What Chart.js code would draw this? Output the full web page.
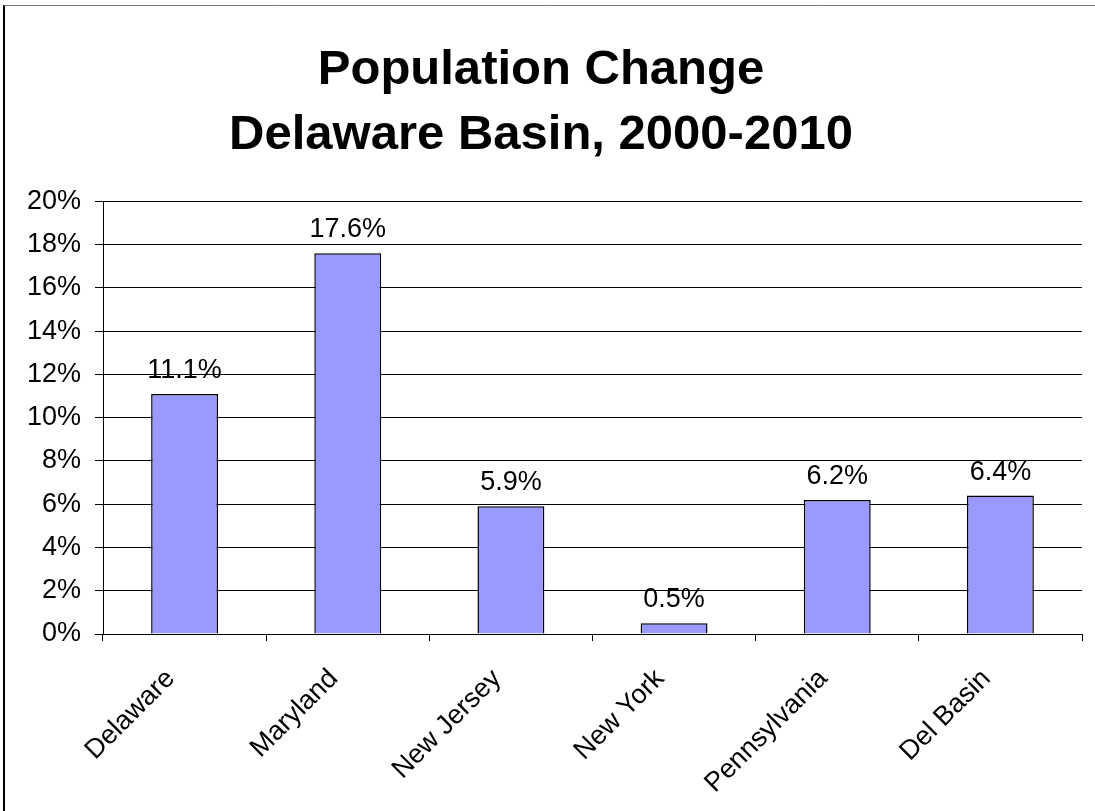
<!DOCTYPE html>
<html>
<head>
<meta charset="utf-8">
<script src="https://cdn.jsdelivr.net/npm/chart.js@4"></script>
<style>
  html, body { margin: 0; padding: 0; background: #fff; }
  #wrap { width: 1095px; height: 811px; position: relative; }
</style>
</head>
<body>
<div id="wrap"><canvas id="myChart" width="1095" height="811"></canvas></div>
<script>
const regions = ["Delaware", "Maryland", "New Jersey", "New York", "Pennsylvania", "Del Basin"];
const popChange = [11.1, 17.6, 5.9, 0.5, 6.2, 6.4];
const titleLines = ["Population Change", "Delaware Basin, 2000-2010"];

const FONT = "'Liberation Sans', Arial, sans-serif";

// frame lines on the left and top edge like the original picture
const framePlugin = {
  id: "frame",
  beforeDraw(chart) {
    const c = chart.ctx;
    c.save();
    c.strokeStyle = "#000";
    c.lineWidth = 2;
    c.beginPath();
    c.moveTo(4, 5);
    c.lineTo(4, chart.height);
    c.stroke();
    c.strokeStyle = "#777";
    c.lineWidth = 1;
    c.beginPath();
    c.moveTo(4, 5.5);
    c.lineTo(chart.width, 5.5);
    c.stroke();
    c.restore();
  },
};

// value labels above the bars
const valueLabels = {
  id: "valueLabels",
  afterDatasetsDraw(chart) {
    const c = chart.ctx;
    const meta = chart.getDatasetMeta(0);
    c.save();
    c.font = "27px " + FONT;
    c.fillStyle = "#000";
    c.textAlign = "center";
    c.textBaseline = "alphabetic";
    meta.data.forEach((bar, i) => {
      c.fillText(popChange[i].toFixed(1) + "%", bar.x, bar.y - 16);
    });
    c.restore();
  },
};

const ctx = document.getElementById("myChart").getContext("2d");
const myChart = new Chart(ctx, {
  type: "bar",
  data: {
    labels: regions,
    datasets: [
      {
        data: popChange,
        backgroundColor: "#9999FF",
        borderColor: "#000",
        borderWidth: 1.5,
        barPercentage: 1,
        categoryPercentage: 0.41,
      },
    ],
  },
  options: {
    responsive: false,
    animation: false,
    layout: { padding: { left: 0, right: 13, top: 0, bottom: 0 } },
    plugins: {
      legend: { display: false },
      tooltip: { enabled: false },
      title: {
        display: true,
        text: titleLines,
        color: "#000",
        font: { family: FONT, size: 49, weight: "bold", lineHeight: 1.32 },
        padding: { top: 38, bottom: 34 },
      },
    },
    scales: {
      x: {
        offset: true,
        grid: {
          offset: true,
          drawOnChartArea: false,
          drawTicks: true,
          tickLength: 7,
          color: "#000",
        },
        border: { color: "#000", width: 1 },
        ticks: {
          color: "#000",
          font: { family: FONT, size: 27 },
          minRotation: 45,
          maxRotation: 45,
          autoSkip: false,
          padding: 22,
          labelOffset: -14,
        },
        afterFit(scale) {
          scale.height = 177;
        },
      },
      y: {
        min: 0,
        max: 20,
        grid: { color: "#000", tickLength: 8 },
        border: { color: "#000", width: 1 },
        ticks: {
          stepSize: 2,
          color: "#000",
          padding: 14,
          font: { family: FONT, size: 27 },
          callback: (v) => v + "%",
        },
        afterFit(scale) {
          scale.width = 103;
        },
      },
    },
  },
  plugins: [framePlugin, valueLabels],
});
</script>
</body>
</html>
